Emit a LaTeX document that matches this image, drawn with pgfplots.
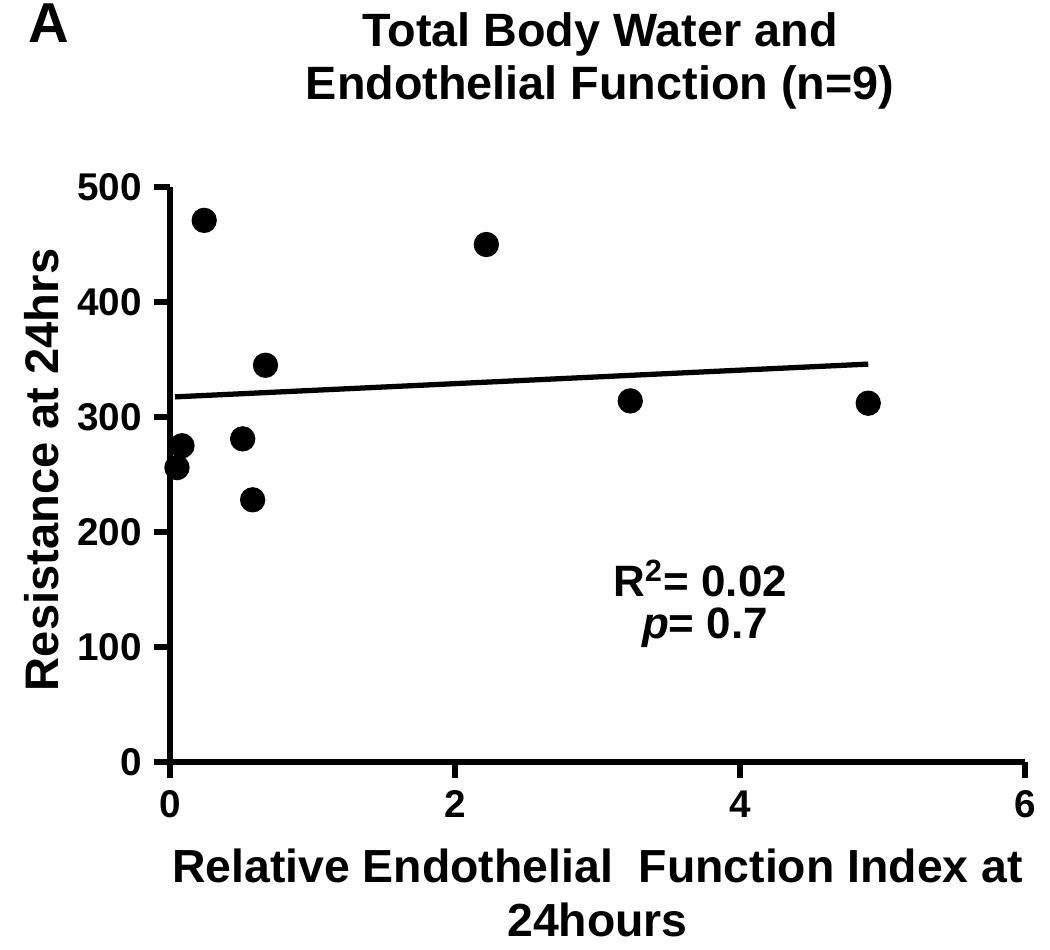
\documentclass[border=0pt]{standalone}
\usepackage{fontspec}
\setmainfont{Liberation Sans}
\usepackage{pgfplots}
\pgfplotsset{compat=1.18}
\begin{document}
\begin{tikzpicture}
\useasboundingbox (-17mm,-18.8mm) rectangle (88mm,76.2mm);
\begin{axis}[
  scale only axis, width=85.5mm, height=57.5mm,
  xmin=0, xmax=6, ymin=0, ymax=500,
  axis x line=bottom, axis y line=left,
  axis line style={line width=1.5pt,-},
  tick style={line width=1.5pt,black},
  major tick length=1.6mm, tick align=outside,
  xtick={0,2,4,6}, ytick={0,100,200,300,400,500},
  ticklabel style={font=\bfseries\fontsize{11}{13}\selectfont},
  /pgf/number format/assume math mode=true,
  clip=false,
  xlabel={Relative Endothelial\ \ Function Index at\\24hours},
  xlabel style={at={(axis description cs:0.5,0)}, anchor=north, yshift=-8.6mm, inner sep=0pt, align=center, font=\bfseries\fontsize{13.2}{15.5}\selectfont},
  ylabel={Resistance at 24hrs},
  ylabel style={at={(axis description cs:-0.150,0.508)}, anchor=center, inner sep=0pt, font=\bfseries\fontsize{13.4}{15.5}\selectfont},
]
\addplot[only marks, mark=*, mark size=3.4pt, black] coordinates {
  (0.049,256) (0.084,275) (0.24,471) (0.51,281) (0.58,228) (0.67,345)
  (2.22,450) (3.23,314) (4.90,312)
};
\addplot[line width=1.5pt, black, no marks] coordinates {(0.035,317.5) (4.90,346)};
\node[anchor=base, inner sep=0pt, font=\bfseries\fontsize{12.5}{14}\selectfont] at (axis cs:3.72,144) {R$^{\mathbf{2}}$= 0.02};
\node[anchor=base, inner sep=0pt, font=\bfseries\fontsize{12.5}{14}\selectfont] at (axis cs:3.754,107) {\textit{p}= 0.7};
\end{axis}
\node[anchor=north, inner sep=0pt, align=center, font=\bfseries\fontsize{13.3}{15}\selectfont] at (43mm,75.0mm) {Total Body Water and\\Endothelial Function (n=9)};
\node[anchor=north west, inner sep=0pt, font=\bfseries\fontsize{16}{18}\selectfont] at (-14.2mm,75.9mm) {A};
\end{tikzpicture}
\end{document}
